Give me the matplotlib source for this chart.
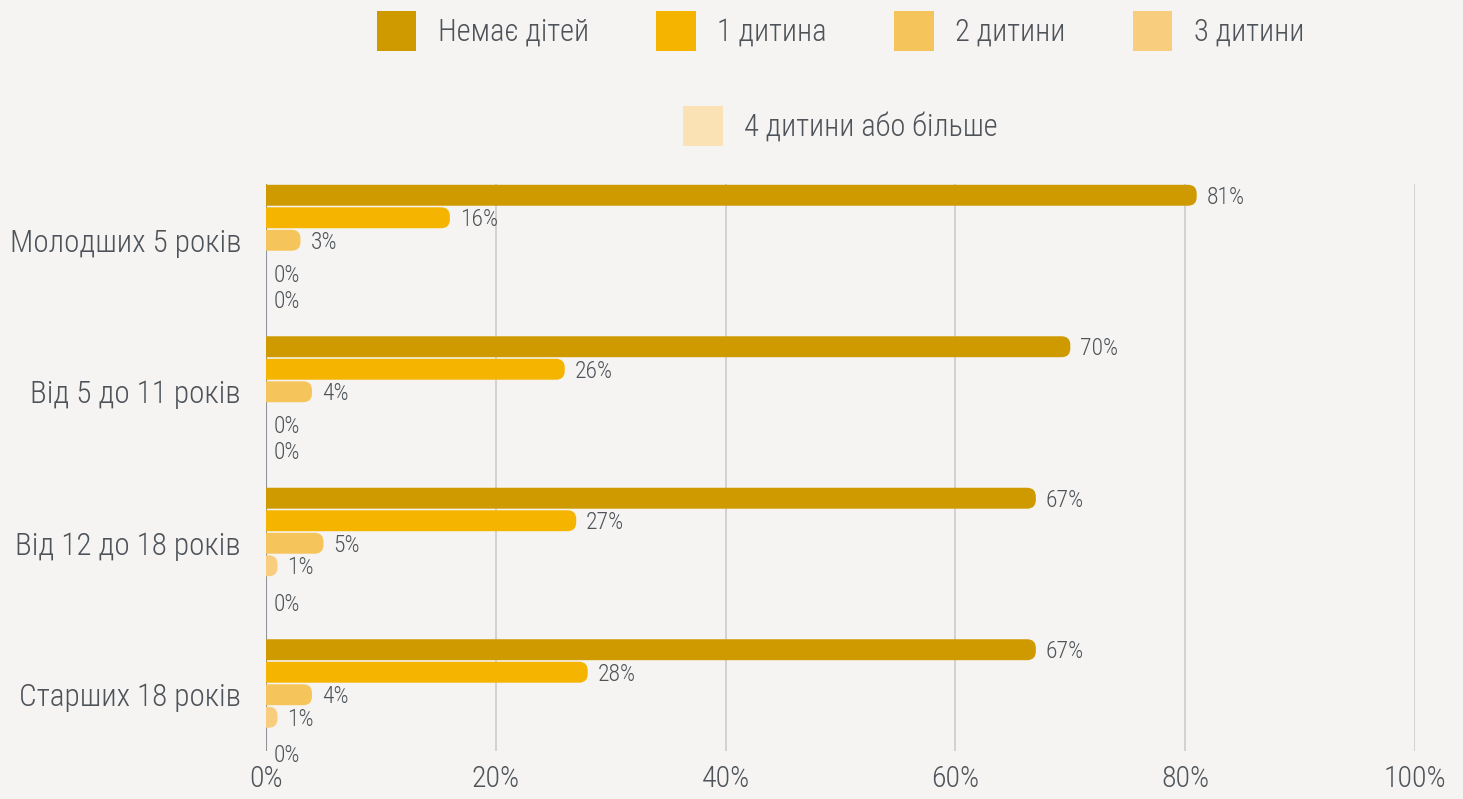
import matplotlib.pyplot as plt
from matplotlib.patches import FancyBboxPatch, Patch
from matplotlib import font_manager

# chart data
groups = ["Молодших 5 років", "Від 5 до 11 років", "Від 12 до 18 років", "Старших 18 років"]
series = ["Немає дітей", "1 дитина", "2 дитини", "3 дитини", "4 дитини або більше"]
no_kids = [81, 70, 67, 67]
one_kid = [16, 26, 27, 28]
two_kids = [3, 4, 5, 4]
three_kids = [0, 0, 1, 1]
four_plus = [0, 0, 0, 0]
values = [no_kids, one_kid, two_kids, three_kids, four_plus]
colors = ["#cf9a00", "#f5b400", "#f5c55c", "#f8cd7d", "#fbe2b4"]
xticks = [0, 20, 40, 60, 80, 100]

names = {f.name for f in font_manager.fontManager.ttflist}
fam = [f for f in ["Liberation Sans Narrow", "Roboto Condensed", "Roboto"] if f in names] + ["DejaVu Sans"]
plt.rcParams['font.family'] = fam
plt.rcParams['font.weight'] = 'light'
txt = "#4d5359"

fig = plt.figure(figsize=(14.63, 7.99), dpi=100)
fig.patch.set_facecolor("#f5f4f2")
ax = fig.add_axes([266 / 1463, 1 - 751 / 799, 1149 / 1463, (751 - 184) / 799])
ax.set_facecolor("none")

gstep = 6.73
bh = 0.93
ax.set_xlim(0, 100)
ax.set_ylim(3 * gstep + 4.5, -0.5)
fig.canvas.draw()

# data units per pixel, used for rounded bar ends
x0p, y0p = ax.transData.transform((0, 0))
x1p, y1p = ax.transData.transform((1, 1))
xupp = 1 / abs(x1p - x0p)
yupp = 1 / abs(y1p - y0p)
aspect = yupp / xupp
rad_y = bh * 0.42
rad_x = rad_y / aspect

for j, vals in enumerate(values):
    ys = [g * gstep + j for g in range(len(groups))]
    bars = ax.barh(ys, vals, height=bh, color=colors[j])
    for p, v, y in zip(bars, vals, ys):
        bx, by, bw, bhh = p.get_x(), p.get_y(), p.get_width(), p.get_height()
        p.remove()
        if bw > 0:
            fp = FancyBboxPatch((bx - rad_x, by), bw + rad_x, bhh,
                                boxstyle="round,pad=0,rounding_size=%f" % rad_x,
                                mutation_aspect=aspect, fc=colors[j], ec="none", zorder=3)
            ax.add_patch(fp)
            ax.text(v + 10 * xupp, y + 0.08, "%d%%" % v, va="center", ha="left",
                    fontsize=17, color=txt, zorder=4)
        else:
            # zero values sit a little lower, like in the original
            ax.text(8 * xupp, y + 0.55 + 0.15 * (j - 3), "%d%%" % v, va="center", ha="left",
                    fontsize=17, color=txt, zorder=4)

ax.set_yticks([g * gstep + 2 for g in range(len(groups))])
ax.set_yticklabels(groups, fontsize=22.5, color=txt)
ax.set_xticks(xticks)
ax.set_xticklabels(["%d%%" % t for t in xticks], fontsize=21.5, color=txt)
ax.tick_params(axis="both", length=0)
ax.tick_params(axis="y", pad=18)
ax.tick_params(axis="x", pad=10)
for s in ax.spines.values():
    s.set_visible(False)
for t in xticks[1:]:
    ax.axvline(t, color="#cfcfcf", lw=1.3, zorder=1)
ax.axvline(0, color="#8e9399", lw=1.5, zorder=2)

handles = [Patch(fc=c, ec="none") for c in colors]
leg1 = ax.legend(handles[:4], series[:4], ncol=4, loc="center", bbox_to_anchor=(0.5, 1 + 153 / 567),
                 frameon=False, fontsize=22, handlelength=1.3, handleheight=1.65,
                 handletextpad=0.7, columnspacing=2.2, labelcolor=txt)
ax.add_artist(leg1)
ax.legend(handles[4:], series[4:], loc="center", bbox_to_anchor=(0.5, 1 + 58 / 567),
          frameon=False, fontsize=22, handlelength=1.3, handleheight=1.65,
          handletextpad=0.7, labelcolor=txt)

fig.savefig("out.png", dpi=100, facecolor=fig.get_facecolor())
